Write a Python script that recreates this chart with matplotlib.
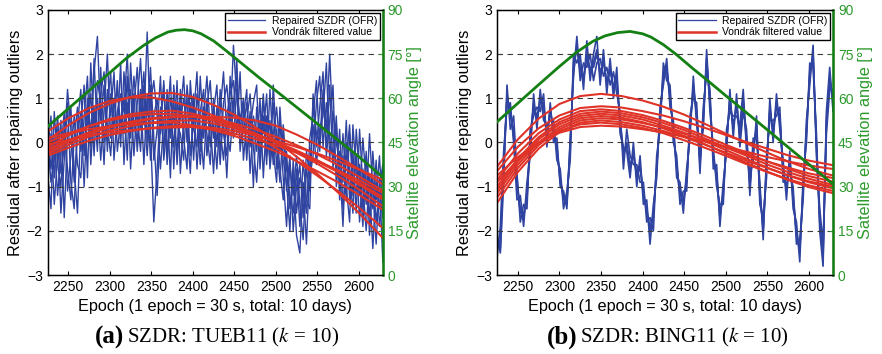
import numpy as np
import matplotlib
matplotlib.use("Agg")
import matplotlib.pyplot as plt
from matplotlib.lines import Line2D

plt.rcParams['font.family'] = ['Liberation Sans', 'DejaVu Sans']
plt.rcParams['mathtext.fontset'] = 'stix'

BLUE = '#2f43a0'
RED = '#e03328'
GREEN = '#148014'
GREEN_TXT = '#2c9a2c'

# epochs of the raw (repaired) residual samples and of the filtered curves
epoch_raw = np.arange(2225, 2630, 4)
epoch_fit = [2225, 2250, 2275, 2300, 2325, 2350, 2375, 2400, 2425, 2450,
             2475, 2500, 2525, 2550, 2575, 2600, 2625, 2630]

# ---------------- (a) TUEB11 ----------------
tueb_raw_1 = [-0.2, 0.6, -0.8, 0.3, -1.6, -0.4, 0.9, -0.9, -1.5, 0.4,
              1.2, -0.3, 1.0, 0.2, 1.6, 2.4, 0.5, 1.3, -0.2, 1.1,
              0.3, 1.4, -0.1, 1.6, 0.6, 1.2, -0.3, 0.9, 1.9, 0.4,
              2.5, 0.2, -1.8, -0.6, 0.8, -0.2, 1.2, 0.1, 1.0, -0.5,
              0.7, 1.5, 0.0, 0.9, -0.4, 1.1, 0.3, -0.6, 0.8, 1.4,
              0.1, 0.6, -0.5, 0.9, 1.3, 0.4, 2.2, 1.0, 0.3, 0.9,
              -0.4, 0.7, -1.0, 0.8, 0.1, 1.1, -0.3, 0.5, -0.5, 0.3,
              -0.6, -1.3, -0.2, -1.5, -0.7, -2.1, -2.5, -0.9, -1.6, 0.1,
              0.6, 1.4, -0.2, 1.0, 0.3, 2.0, 0.2, -0.7, 0.3, -1.5,
              -0.4, 0.4, -1.2, -0.3, -1.8, -0.6, -1.4, 0.2, -1.1, -2.3,
              -0.8, -2.7]
tueb_raw_2 = [-1.0, 0.2, -1.4, -0.3, 0.5, -1.7, 0.2, 0.8, -0.6, -1.6,
              0.4, 1.3, -0.8, 1.8, 0.3, 1.0, -0.4, 0.7, 2.0, 0.1,
              1.0, 0.2, 1.8, -0.5, 0.9, 0.3, 1.5, 0.6, -0.2, 1.3,
              0.6, 1.7, 0.1, -1.2, 0.4, 1.3, -0.5, 0.6, -0.1, 1.4,
              -0.7, 0.5, 1.0, -0.3, 0.6, 1.6, -0.2, 0.8, 0.2, -0.5,
              1.0, -0.1, 1.2, 0.2, -0.3, 1.5, 0.6, 1.9, -0.2, 0.6,
              1.2, -0.7, 0.4, -0.2, 1.0, -0.8, 0.6, -0.1, 0.9, -0.6,
              0.5, -0.8, -1.9, -0.5, -1.2, -0.3, -1.4, -2.2, -0.6, -1.1,
              1.1, -0.1, 0.8, 1.6, -0.3, 0.5, 1.3, -1.0, -0.2, -0.9,
              0.5, -1.3, -0.2, -1.6, 0.3, -1.0, -2.0, -0.7, -1.5, -0.4,
              -1.9, -1.2]
tueb_raw_3 = [0.4, -0.6, 0.1, -1.2, -0.2, 0.7, -1.1, -0.3, 0.6, -0.5,
              -0.8, 0.6, 1.5, -0.5, 0.8, -0.2, 1.7, 0.0, 0.8, 1.6,
              -0.4, 0.7, 1.1, 0.2, 1.5, -0.6, 0.8, 1.7, 0.3, 0.7,
              -0.3, 0.9, 1.4, 0.6, -0.6, 0.5, 0.9, -0.8, 1.3, 0.4,
              0.2, -0.4, 1.3, 0.5, 1.1, -0.6, 0.7, 1.2, -0.3, 0.5,
              -0.7, 0.8, 0.3, -0.4, 0.6, 1.1, 1.4, 0.2, 1.6, -0.4,
              0.5, 1.1, -0.1, -0.9, 0.5, 0.2, 1.1, -0.6, 0.2, 0.8,
              -0.2, 0.2, -1.1, -0.3, -2.0, -1.0, -0.5, -1.7, -0.2, -0.8,
              -0.3, 0.9, 1.5, -0.1, 0.9, 0.1, -0.4, 0.6, -1.3, 0.2,
              -1.0, -1.8, 0.4, -0.7, -1.2, 0.1, -0.9, -1.7, -0.2, -1.3,
              -0.3, -1.7]
tueb_raw_4 = [-0.7, -1.5, 0.7, -0.5, -1.0, 0.4, -0.6, -1.3, 0.1, 0.8,
              -0.2, 0.3, 0.4, 1.1, -0.3, 1.4, 0.9, -0.5, 1.2, 0.6,
              1.6, -0.2, 0.5, 1.0, -0.4, 1.8, 0.4, 0.0, 1.2, -0.5,
              1.1, -0.4, 0.6, 1.0, 0.2, 1.4, -0.3, 1.0, 0.5, -0.2,
              1.2, 0.1, -0.6, 1.4, 0.3, -0.1, 1.5, 0.1, 1.0, -0.1,
              0.7, 1.3, -0.2, 0.5, -0.8, 0.9, 0.1, 1.2, 0.5, 1.0,
              -0.2, 0.3, 0.9, 1.3, -0.6, 0.6, -0.5, 1.2, -0.2, -0.9,
              0.8, -0.4, -0.9, -2.0, -0.4, -1.6, -0.8, -1.0, -2.3, -0.5,
              0.4, -0.5, 0.3, 0.6, 1.8, -0.4, 0.7, 0.0, -0.5, -1.9,
              0.0, -0.6, -1.6, 0.3, -0.8, -1.9, -0.3, -1.0, -2.4, -0.9,
              -1.5, -0.6]
tueb_raw_5 = [0.1, -0.9, -0.4, 0.6, -0.7, -0.1, 1.2, 0.3, -0.9, 0.2,
              0.7, -1.0, 0.8, -0.1, 1.9, 0.1, 1.1, 1.6, 0.4, -0.3,
              0.9, 1.2, 0.4, 0.8, 2.0, 0.1, 1.1, -0.2, 0.8, 1.6,
              0.0, 1.3, -0.4, 0.3, 1.5, -0.4, 0.4, 1.5, -0.6, 0.9,
              0.5, 1.0, 0.3, -0.7, 0.9, 0.5, -0.5, 0.6, 1.5, 0.3,
              0.4, -0.6, 0.7, 1.6, 0.2, -0.2, 0.9, 1.5, 0.0, 0.3,
              0.9, -0.1, 0.6, 0.2, -0.4, 0.9, 0.3, -0.4, 1.3, 0.0,
              -0.9, 0.4, -0.6, -1.2, -1.6, -0.6, -1.9, -0.4, -1.3, -1.5,
              1.0, 0.2, 0.0, 1.2, -0.2, 1.3, -0.6, 0.4, -0.9, -0.3,
              -1.3, 0.2, -0.8, -1.1, -0.5, -1.5, -0.2, -2.1, -0.8, -1.8,
              -1.0, -0.5]

tueb_fit = [
    [0.05, 0.39, 0.67, 0.88, 1.03, 1.11, 1.12, 1.03, 0.85, 0.63, 0.35, 0.04, -0.32, -0.71, -1.13, -1.59, -2.08, -2.18],
    [0.25, 0.55, 0.78, 0.94, 1.02, 1.02, 0.93, 0.79, 0.61, 0.40, 0.15, -0.12, -0.42, -0.75, -1.10, -1.47, -1.87, -1.95],
    [-0.10, 0.16, 0.37, 0.53, 0.64, 0.70, 0.72, 0.65, 0.54, 0.39, 0.21, 0.00, -0.23, -0.48, -0.76, -1.06, -1.39, -1.45],
    [0.00, 0.20, 0.37, 0.50, 0.59, 0.64, 0.65, 0.59, 0.49, 0.36, 0.20, 0.02, -0.18, -0.40, -0.65, -0.91, -1.19, -1.25],
    [-0.15, 0.05, 0.23, 0.37, 0.47, 0.55, 0.59, 0.60, 0.54, 0.43, 0.30, 0.13, -0.06, -0.27, -0.51, -0.77, -1.04, -1.10],
    [-0.20, 0.01, 0.19, 0.34, 0.45, 0.53, 0.57, 0.58, 0.58, 0.56, 0.50, 0.38, 0.18, -0.05, -0.32, -0.60, -0.90, -0.96],
    [-0.25, -0.05, 0.13, 0.27, 0.37, 0.45, 0.49, 0.50, 0.43, 0.32, 0.18, 0.00, -0.20, -0.43, -0.67, -0.95, -1.24, -1.30],
    [0.10, 0.21, 0.30, 0.37, 0.42, 0.44, 0.45, 0.39, 0.28, 0.15, -0.02, -0.20, -0.42, -0.65, -0.90, -1.18, -1.47, -1.53],
    [-0.30, -0.12, 0.04, 0.17, 0.26, 0.33, 0.37, 0.38, 0.33, 0.26, 0.16, 0.04, -0.10, -0.25, -0.42, -0.61, -0.81, -0.85],
    [-0.05, 0.06, 0.15, 0.23, 0.28, 0.32, 0.34, 0.35, 0.29, 0.20, 0.08, -0.06, -0.23, -0.42, -0.63, -0.85, -1.10, -1.15],
]

tueb_elev_epoch = [2225, 2250, 2275, 2300, 2320, 2340, 2355, 2370, 2380, 2390, 2400,
                   2410, 2425, 2440, 2460, 2480, 2500, 2525, 2550, 2575, 2600, 2630]
tueb_elev = [50.4, 56.5, 62.6, 68.7, 73.6, 77.8, 80.5, 82.5, 83.1, 83.3, 82.9,
             81.9, 79.5, 76.2, 71.6, 67.0, 62.6, 57.0, 51.4, 45.8, 40.2, 33.0]

# ---------------- (b) BING11 ----------------
bing_raw_1 = [-2.4, -2.2, -0.5, 1.1, 0.6, 0.3, -1.0, -1.5, -1.7, -1.2,
              0.0, 0.9, 0.5, 1.0, 0.8, 0.2, 0.7, 0.3, -0.2, -0.8,
              -1.3, -1.3, -0.2, 1.8, 2.1, 1.7, 1.4, 2.0, 1.6, 1.8,
              2.1, 1.5, 1.9, 1.3, 1.7, 1.2, 1.5, 0.4, -0.3, 0.0,
              -0.6, -0.2, -0.8, -0.5, -1.2, -1.5, -2.0, -1.6, -0.6, 0.6,
              1.5, 1.7, 1.0, 0.3, -0.6, -1.1, -1.4, -0.8, 0.3, 1.3,
              0.6, -0.4, 0.5, 1.9, 0.9, -0.3, -0.8, -1.6, -1.2, 0.1,
              0.9, 0.4, 0.8, 0.2, 1.0, 0.0, -0.9, -0.2, 0.4, -1.2,
              -1.9, -0.6, 0.8, 0.2, 0.9, 0.5, -0.6, -1.1, -0.4, -1.3,
              -2.0, -2.5, -1.0, 0.2, 1.6, 1.9, 0.0, -1.8, -2.6, 0.5,
              1.5, 0.9]
bing_raw_2 = [-2.1, -2.5, -0.9, 1.3, 0.3, 0.6, -0.7, -1.8, -1.4, -1.5,
              0.3, 0.6, 0.8, 0.7, 1.1, -0.1, 0.9, 0.0, 0.1, -1.0,
              -1.1, -1.5, 0.1, 1.5, 2.4, 1.4, 1.8, 1.7, 2.0, 1.4,
              1.8, 1.9, 1.5, 1.7, 1.3, 1.6, 1.1, 0.7, -0.6, 0.3,
              -0.3, -0.5, -0.5, -0.9, -0.9, -1.8, -1.7, -2.0, -0.3, 0.3,
              1.8, 1.4, 1.3, 0.0, -0.3, -1.4, -1.1, -1.1, 0.6, 1.0,
              0.9, -0.7, 0.8, 1.6, 1.2, -0.6, -0.5, -1.9, -0.9, -0.2,
              1.2, 0.1, 1.1, -0.1, 0.7, 0.3, -1.2, 0.1, 0.1, -0.9,
              -2.2, -0.3, 0.5, 0.5, 0.6, 0.8, -0.9, -0.8, -0.7, -1.0,
              -2.3, -2.2, -1.3, 0.5, 1.3, 2.2, -0.3, -1.5, -2.3, 0.2,
              1.2, 1.2]
bing_raw_3 = [-2.6, -1.9, -0.2, 0.8, 0.9, 0.0, -1.3, -1.2, -1.9, -0.9,
              -0.3, 1.1, 0.3, 1.2, 0.5, 0.4, 0.5, 0.5, -0.4, -0.6,
              -1.5, -1.1, -0.4, 2.0, 1.8, 2.0, 1.2, 2.3, 1.4, 2.0,
              2.4, 1.3, 2.1, 1.1, 1.9, 1.0, 1.7, 0.2, -0.1, -0.2,
              -0.8, 0.0, -1.0, -0.3, -1.4, -1.3, -2.3, -1.4, -0.8, 0.8,
              1.3, 1.9, 0.8, 0.5, -0.8, -0.9, -1.6, -0.6, 0.1, 1.5,
              0.4, -0.2, 0.3, 2.1, 0.7, -0.1, -1.0, -1.4, -1.4, 0.3,
              0.7, 0.6, 0.6, 0.4, 1.2, -0.2, -0.7, -0.4, 0.6, -1.4,
              -1.7, -0.8, 1.0, 0.0, 1.1, 0.3, -0.4, -1.3, -0.2, -1.5,
              -1.8, -2.7, -0.8, 0.0, 1.8, 1.7, 0.2, -2.0, -2.8, 0.7,
              1.7, 0.7]
bing_raw_4 = [-2.2, -2.4, -0.6, 1.0, 0.7, 0.1, -0.8, -1.6, -1.6, -1.3,
              0.2, 0.8, 0.6, 0.9, 0.9, 0.1, 0.8, 0.2, -0.1, -0.9,
              -1.2, -1.4, 0.0, 1.6, 2.2, 1.6, 1.5, 1.9, 1.7, 1.7,
              2.0, 1.6, 1.8, 1.4, 1.6, 1.3, 1.4, 0.5, -0.2, -0.1,
              -0.5, -0.3, -0.7, -0.6, -1.1, -1.6, -1.9, -1.7, -0.5, 0.5,
              1.6, 1.6, 1.1, 0.2, -0.5, -1.2, -1.3, -0.9, 0.4, 1.2,
              0.7, -0.5, 0.6, 1.8, 1.0, -0.4, -0.7, -1.7, -1.1, 0.0,
              1.0, 0.3, 0.9, 0.1, 0.9, 0.1, -1.0, -0.1, 0.3, -1.1,
              -2.0, -0.5, 0.7, 0.3, 0.8, 0.6, -0.7, -1.0, -0.5, -1.2,
              -2.1, -2.4, -1.1, 0.3, 1.5, 2.0, -0.1, -1.7, -2.5, 0.4,
              1.4, 1.0]

bing_fit = [
    [-0.55, 0.07, 0.54, 0.87, 1.05, 1.10, 1.05, 0.95, 0.81, 0.63, 0.42, 0.20, -0.02, -0.23, -0.43, -0.60, -0.73, -0.75],
    [-0.65, -0.10, 0.32, 0.61, 0.78, 0.82, 0.79, 0.71, 0.61, 0.48, 0.33, 0.17, 0.01, -0.14, -0.29, -0.41, -0.50, -0.52],
    [-0.85, -0.25, 0.21, 0.52, 0.71, 0.75, 0.71, 0.62, 0.49, 0.33, 0.15, -0.05, -0.24, -0.43, -0.60, -0.76, -0.87, -0.89],
    [-1.00, -0.37, 0.12, 0.46, 0.65, 0.70, 0.66, 0.57, 0.44, 0.28, 0.09, -0.11, -0.30, -0.50, -0.67, -0.82, -0.94, -0.96],
    [-1.07, -0.43, 0.07, 0.41, 0.60, 0.65, 0.61, 0.52, 0.38, 0.22, 0.03, -0.17, -0.37, -0.57, -0.75, -0.90, -1.02, -1.04],
    [-1.15, -0.50, 0.00, 0.35, 0.55, 0.60, 0.56, 0.46, 0.32, 0.15, -0.04, -0.25, -0.46, -0.66, -0.85, -1.01, -1.13, -1.15],
    [-1.25, -0.58, -0.06, 0.30, 0.50, 0.55, 0.52, 0.44, 0.34, 0.20, 0.05, -0.11, -0.27, -0.43, -0.57, -0.70, -0.79, -0.81],
    [-1.37, -0.67, -0.14, 0.24, 0.45, 0.50, 0.46, 0.38, 0.26, 0.12, -0.05, -0.23, -0.41, -0.58, -0.74, -0.88, -0.98, -1.00],
    [-0.90, -0.40, -0.01, 0.26, 0.41, 0.45, 0.41, 0.33, 0.21, 0.05, -0.12, -0.30, -0.49, -0.67, -0.83, -0.97, -1.08, -1.10],
    [-0.75, -0.33, 0.00, 0.22, 0.35, 0.38, 0.36, 0.30, 0.23, 0.13, 0.02, -0.10, -0.21, -0.33, -0.43, -0.52, -0.59, -0.60],
]

bing_elev_epoch = [2225, 2250, 2275, 2300, 2320, 2340, 2355, 2370, 2385, 2400, 2410,
                   2425, 2440, 2460, 2480, 2500, 2525, 2550, 2575, 2600, 2630]
bing_elev = [52.0, 58.3, 64.6, 70.8, 75.5, 79.3, 81.2, 82.3, 82.7, 81.9, 80.8,
             78.2, 75.0, 70.2, 65.6, 60.9, 55.1, 49.3, 43.4, 37.6, 30.6]

x_ticks = [2250, 2300, 2350, 2400, 2450, 2500, 2550, 2600]
y_ticks = [-3, -2, -1, 0, 1, 2, 3]
elev_ticks = [0, 15, 30, 45, 60, 75, 90]
legend_labels = ["Repaired SZDR (OFR)", "Vondrák filtered value"]


def draw_panel(fig, rect, raw_series, fit_series, elev_x, elev_y, raw_lw):
    ax = fig.add_axes(rect)
    for s in raw_series:
        ax.plot(epoch_raw, s, color=BLUE, lw=raw_lw, zorder=2)
    for yv in [-2, -1, 0, 1, 2]:
        ax.axhline(yv, color='#3a3a3a', lw=0.8, ls=(0, (5, 4)), zorder=3)
    for f in fit_series:
        ax.plot(epoch_fit, f, color=RED, lw=1.5, zorder=4)
    ax.set_xlim(2225, 2629)
    ax.set_ylim(-3, 3)
    ax.set_xticks(x_ticks)
    ax.set_yticks(y_ticks)
    ax.tick_params(direction='in', top=True, labelsize=10, length=3, width=0.8)
    for sp in ax.spines.values():
        sp.set_linewidth(1.0)
    ax.set_xlabel("Epoch (1 epoch = 30 s, total: 10 days)", fontsize=11.7, labelpad=4)
    ax.set_ylabel("Residual after repairing outliers", fontsize=11.7, labelpad=3)

    ax2 = ax.twinx()
    ax2.plot(elev_x, elev_y, color=GREEN, lw=2.0, zorder=5)
    ax2.set_xlim(2225, 2629)
    ax2.set_ylim(0, 90)
    ax2.set_yticks(elev_ticks)
    ax2.tick_params(axis='y', direction='in', colors=GREEN_TXT, labelsize=10, length=3)
    ax2.spines['right'].set_color(GREEN)
    ax2.spines['right'].set_linewidth(1.8)
    ax2.set_ylabel("Satellite elevation angle [°]", color=GREEN_TXT, fontsize=11.7, labelpad=3)

    handles = [Line2D([], [], color=BLUE, lw=0.9), Line2D([], [], color=RED, lw=1.8)]
    leg = ax2.legend(handles, legend_labels, loc='upper right', fontsize=7.5,
                     frameon=True, fancybox=False, framealpha=1.0,
                     edgecolor='black', borderpad=0.25, handlelength=3.6,
                     labelspacing=0.15, borderaxespad=0.3, handletextpad=0.6)
    leg.get_frame().set_linewidth(1.0)
    return ax, ax2


fig = plt.figure(figsize=(8.82, 3.54), dpi=100)
draw_panel(fig, [0.054, 0.223, 0.380, 0.749],
           [tueb_raw_1, tueb_raw_2, tueb_raw_3, tueb_raw_4, tueb_raw_5],
           tueb_fit, tueb_elev_epoch, tueb_elev, 1.0)
draw_panel(fig, [0.5635, 0.223, 0.381, 0.749],
           [bing_raw_1, bing_raw_2, bing_raw_3, bing_raw_4],
           bing_fit, bing_elev_epoch, bing_elev, 1.2)

serif = ['Liberation Serif', 'DejaVu Serif']
cap_y = 1 - 337 / 354
fig.text(124 / 882, cap_y, "(a)", ha='right', va='center', fontsize=18,
         fontweight='bold', family=serif)
fig.text(127 / 882, cap_y, "SZDR: TUEB11 ($k$ = 10)", ha='left', va='center',
         fontsize=15, family=serif)
fig.text(578 / 882, cap_y, "(b)", ha='right', va='center', fontsize=18,
         fontweight='bold', family=serif)
fig.text(580 / 882, cap_y, "SZDR: BING11 ($k$ = 10)", ha='left', va='center',
         fontsize=15, family=serif)

fig.savefig("out.png", dpi=100)
